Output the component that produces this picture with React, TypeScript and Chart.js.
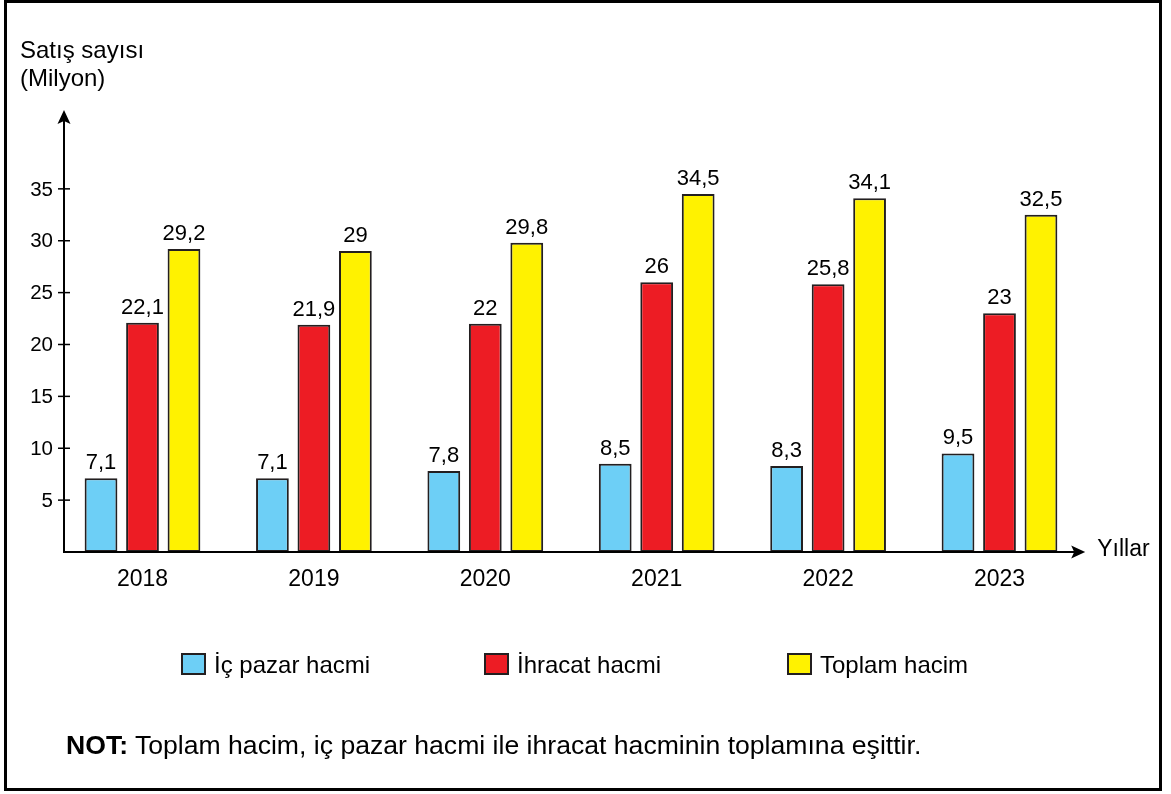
import React, { useEffect, useRef } from "react";
import { Chart, registerables } from "chart.js";

Chart.register(...registerables);

const years = ["2018", "2019", "2020", "2021", "2022", "2023"];
const icPazar = [7.1, 7.1, 7.8, 8.5, 8.3, 9.5];
const ihracat = [22.1, 21.9, 22, 26, 25.8, 23];
const toplam = [29.2, 29, 29.8, 34.5, 34.1, 32.5];
const yTicks = [5, 10, 15, 20, 25, 30, 35];
const seriesNames = ["İç pazar hacmi", "İhracat hacmi", "Toplam hacim"];
const seriesColors = ["#6dcff6", "#ed1c24", "#fff200"];
const axisTitleY = ["Satış sayısı", "(Milyon)"];
const axisTitleX = "Yıllar";
const noteBold = "NOT:";
const noteText = " Toplam hacim, iç pazar hacmi ile ihracat hacminin toplamına eşittir.";

const FONT = '"Liberation Sans", Arial, Helvetica, sans-serif';
const EDGE = "#231f20";

const fmt = (v: number) => String(v).replace(".", ",");

const axesPlugin = {
  id: "customAxes",
  afterDatasetsDraw(chart: any) {
    const { ctx, chartArea, scales } = chart;
    const xs = scales.x;
    const ys = scales.y;
    const axisX = chartArea.left + 7.2;
    const bottom = chartArea.bottom;
    ctx.save();
    // data labels
    ctx.fillStyle = "#000";
    ctx.font = `22px ${FONT}`;
    ctx.textAlign = "center";
    ctx.textBaseline = "alphabetic";
    chart.data.datasets.forEach((ds: any, di: number) => {
      const meta = chart.getDatasetMeta(di);
      meta.data.forEach((el: any, i: number) => {
        ctx.fillText(fmt(ds.data[i]), el.x, el.y - 9);
      });
    });
    // axes lines
    ctx.strokeStyle = "#000";
    ctx.lineWidth = 2;
    ctx.beginPath();
    ctx.moveTo(axisX, bottom);
    ctx.lineTo(axisX, chartArea.top + 10);
    ctx.moveTo(axisX - 1, bottom);
    ctx.lineTo(chartArea.right - 10, bottom);
    ctx.stroke();
    // arrow heads
    ctx.fillStyle = "#000";
    const tipY = chartArea.top;
    ctx.beginPath();
    ctx.moveTo(axisX, tipY);
    ctx.lineTo(axisX - 6.5, tipY + 14);
    ctx.lineTo(axisX, tipY + 11);
    ctx.lineTo(axisX + 6.5, tipY + 14);
    ctx.closePath();
    ctx.fill();
    const tipX = chartArea.right;
    ctx.beginPath();
    ctx.moveTo(tipX, bottom);
    ctx.lineTo(tipX - 14, bottom - 6.5);
    ctx.lineTo(tipX - 11, bottom);
    ctx.lineTo(tipX - 14, bottom + 6.5);
    ctx.closePath();
    ctx.fill();
    // y ticks
    ctx.font = `20.5px ${FONT}`;
    ctx.textAlign = "right";
    ctx.textBaseline = "middle";
    ctx.lineWidth = 1.5;
    yTicks.forEach((v) => {
      const py = ys.getPixelForValue(v);
      ctx.beginPath();
      ctx.moveTo(axisX - 6, py);
      ctx.lineTo(axisX + 6, py);
      ctx.stroke();
      ctx.fillText(String(v), axisX - 11, py + 1);
    });
    // x labels
    ctx.font = `23px ${FONT}`;
    ctx.textAlign = "center";
    ctx.textBaseline = "alphabetic";
    years.forEach((y, i) => {
      ctx.fillText(y, xs.getPixelForValue(i), bottom + 34);
    });
    ctx.textAlign = "left";
    ctx.fillText(axisTitleX, chartArea.right + 12, bottom + 4);
    ctx.restore();
  },
};

export default function App() {
  const ref = useRef<HTMLCanvasElement | null>(null);

  useEffect(() => {
    if (!ref.current) return;
    const mk = (label: string, data: number[], color: string) => ({
      label,
      data,
      backgroundColor: color,
      borderColor: EDGE,
      borderWidth: 2,
      borderSkipped: false,
      categoryPercentage: 0.726,
      barPercentage: 0.79,
    });
    const chart = new Chart(ref.current, {
      type: "bar",
      data: {
        labels: years,
        datasets: [
          mk(seriesNames[0], icPazar, seriesColors[0]),
          mk(seriesNames[1], ihracat, seriesColors[1]),
          mk(seriesNames[2], toplam, seriesColors[2]),
        ],
      },
      options: {
        responsive: false,
        animation: false,
        devicePixelRatio: 1,
        layout: { padding: { left: 56.8, right: 85.8, top: 110, bottom: 242 } },
        plugins: { legend: { display: false }, tooltip: { enabled: false }, title: { display: false } },
        scales: {
          x: { display: false, offset: true },
          y: { display: false, min: 0, max: 42.6 },
        },
      },
      plugins: [axesPlugin],
    } as any);
    return () => chart.destroy();
  }, []);

  const legendLefts = [181, 484, 787];

  return (
    <div style={{ position: "absolute", left: 0, top: 0, width: 1171, height: 794, background: "#fff", fontFamily: FONT, color: "#000" }}>
      <canvas ref={ref} width={1171} height={794} style={{ position: "absolute", left: 0, top: 0, width: 1171, height: 794 }} />
      <div style={{ position: "absolute", left: 4, top: 0, width: 1152, height: 785, border: "3px solid #000", pointerEvents: "none" }} />
      <div style={{ position: "absolute", left: 20, top: 35.7, fontSize: 24, lineHeight: "28px", whiteSpace: "nowrap" }}>
        {axisTitleY.map((t) => (
          <div key={t}>{t}</div>
        ))}
      </div>
      {seriesNames.map((n, i) => (
        <React.Fragment key={n}>
          <div style={{ position: "absolute", left: legendLefts[i], top: 653, width: 21, height: 18, background: seriesColors[i], border: `2px solid ${EDGE}` }} />
          <div style={{ position: "absolute", left: legendLefts[i] + 33, top: 652.7, fontSize: 24, lineHeight: "24px", whiteSpace: "nowrap" }}>{n}</div>
        </React.Fragment>
      ))}
      <div style={{ position: "absolute", left: 66, top: 731.5, fontSize: 26.6, lineHeight: "26.6px", whiteSpace: "nowrap" }}>
        <b>{noteBold}</b>
        {noteText}
      </div>
    </div>
  );
}
